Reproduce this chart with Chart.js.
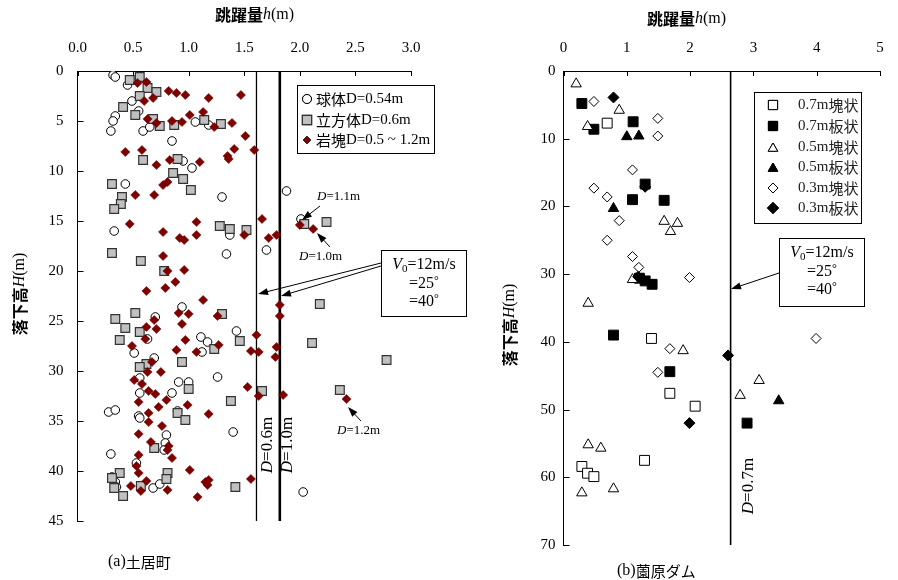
<!DOCTYPE html>
<html><head><meta charset="utf-8">
<script src="https://cdn.jsdelivr.net/npm/chart.js@4.4.0/dist/chart.umd.min.js"></script>
<style>
html,body{margin:0;padding:0;background:#fff;width:898px;height:580px;overflow:hidden}
#wa{position:absolute;left:0;top:0;width:470px;height:580px}
#wb{position:absolute;left:470px;top:0;width:428px;height:580px}
</style></head><body>
<div id="wa"><canvas id="ca" width="470" height="580"></canvas></div>
<div id="wb"><canvas id="cb" width="428" height="580"></canvas></div>
<script>
// ---------- (a) 土居町 data : [跳躍量 h (m), 落下高 H (m)] ----------
const sphere054 = [[0.32,0.4],[0.34,0.6],[0.45,1.4],[0.49,3.0],[0.55,4.0],[0.34,4.5],[0.32,5.0],[0.30,6.0],[0.59,6.0],[0.65,5.6],[1.06,5.1],[1.18,5.4],[0.85,7.0],[0.95,9.0],[1.03,9.7],[0.43,11.3],[1.30,12.6],[0.33,16.0],[1.37,16.4],[1.34,18.3],[1.88,12.0],[2.01,14.8],[1.70,17.9],[0.94,23.6],[0.70,24.6],[1.43,26.0],[1.11,26.6],[1.17,27.1],[1.12,28.1],[0.63,26.8],[0.51,28.2],[0.69,28.7],[1.26,30.6],[0.56,30.7],[0.91,31.1],[1.00,31.1],[0.85,32.2],[0.56,32.2],[0.28,34.1],[0.34,33.9],[0.55,34.5],[0.56,34.7],[0.90,34.0],[1.40,36.1],[0.80,36.4],[0.79,37.2],[0.78,37.9],[0.30,38.3],[0.53,39.2],[0.31,40.6],[0.34,41.1],[0.35,41.6],[0.68,41.7],[0.74,41.3],[2.03,42.1]];
const cube06 = [[0.47,0.9],[0.56,0.6],[0.63,1.7],[0.71,2.1],[0.56,2.5],[0.41,3.6],[0.52,4.4],[0.68,4.8],[0.74,5.5],[0.87,5.4],[1.14,4.9],[1.29,5.3],[0.59,8.9],[0.90,8.8],[0.86,10.2],[0.95,10.8],[1.02,11.9],[0.31,11.3],[0.40,12.6],[0.39,13.3],[0.33,13.8],[1.28,15.5],[1.37,15.8],[1.52,15.9],[0.31,18.2],[0.57,19.0],[0.78,20.0],[2.04,15.3],[2.24,15.1],[0.34,24.8],[0.52,24.2],[0.43,25.7],[0.38,26.9],[0.56,26.1],[1.30,24.3],[1.46,27.0],[1.23,27.8],[0.62,29.3],[0.56,29.6],[0.94,29.1],[1.00,31.8],[1.38,33.0],[0.90,34.2],[0.97,34.9],[0.69,37.7],[0.38,40.2],[0.31,40.7],[0.33,41.7],[0.41,42.5],[0.57,41.5],[0.81,40.2],[0.80,40.8],[1.42,41.6],[2.18,23.3],[2.11,27.2],[2.78,28.9],[1.66,32.0],[2.36,31.9]];
const rockMix = [[0.54,1.2],[0.62,1.1],[0.82,2.0],[0.89,2.2],[0.97,2.4],[1.18,2.7],[1.47,2.4],[0.60,3.0],[0.68,2.7],[0.63,4.8],[0.71,5.2],[0.85,5.0],[0.94,5.1],[1.01,4.4],[1.13,4.1],[1.23,5.6],[1.39,5.2],[1.51,6.5],[0.43,8.1],[0.58,7.9],[1.41,7.8],[1.35,8.5],[1.36,8.8],[1.59,7.9],[0.83,8.9],[0.71,9.4],[1.10,9.1],[0.77,11.4],[0.81,11.1],[0.52,12.4],[0.69,12.4],[0.47,15.3],[1.07,15.1],[0.77,16.1],[0.92,16.7],[0.96,16.9],[1.07,16.4],[1.50,16.4],[0.77,18.5],[0.81,20.0],[0.96,19.9],[0.88,21.1],[0.62,22.0],[0.79,21.7],[1.13,22.9],[1.66,14.8],[1.72,16.7],[1.79,16.4],[2.00,15.4],[2.12,15.8],[0.91,24.2],[1.00,24.3],[1.26,24.5],[0.69,24.9],[0.71,25.8],[0.62,25.6],[0.94,25.3],[0.61,26.8],[0.97,26.9],[0.49,27.5],[1.27,27.4],[0.89,27.9],[1.07,28.1],[1.56,28.0],[1.63,28.1],[1.61,26.4],[0.67,29.1],[0.63,30.1],[0.75,30.1],[0.51,30.9],[0.58,31.3],[0.64,32.0],[0.70,32.3],[0.55,33.1],[0.80,32.9],[0.73,33.6],[0.99,33.4],[1.53,31.6],[1.63,32.5],[1.18,34.3],[0.64,34.2],[0.64,35.1],[0.76,35.5],[0.55,36.3],[0.66,37.1],[0.82,37.5],[0.81,37.9],[0.85,38.7],[0.55,38.4],[0.53,39.5],[0.55,40.2],[1.01,39.9],[0.62,41.0],[0.48,41.5],[0.57,42.0],[0.81,41.9],[1.08,42.6],[1.15,41.1],[1.18,40.9],[1.17,41.4],[1.56,40.8],[1.82,23.4],[1.82,24.5],[1.79,27.6],[1.78,28.6],[1.85,32.4],[2.42,32.8]];
const limitD06 = [1.61];
const limitD10 = [1.82];
const leftXLabels = ['0.0','0.5','1.0','1.5','2.0','2.5','3.0'];
const leftYLabels = ['0','5','10','15','20','25','30','35','40','45'];

// ---------- (b) 薗原ダム data ----------
const block07 = [[0.69,7.7],[1.39,39.5],[1.68,47.6],[2.08,49.5],[1.28,57.5],[0.29,58.4],[0.38,59.4],[0.48,59.9]];
const plate07 = [[0.29,4.8],[0.48,8.6],[1.10,7.5],[1.29,16.7],[1.09,19.0],[1.59,19.1],[1.20,30.6],[1.29,31.0],[1.40,31.5],[0.79,39.0],[1.68,44.4],[2.90,52.0]];
const block05 = [[0.20,1.9],[0.88,5.8],[0.38,8.2],[1.59,22.2],[1.80,22.5],[1.69,23.7],[1.09,30.8],[0.39,34.3],[1.89,41.3],[0.39,55.2],[0.59,55.7],[0.29,62.3],[0.79,61.7],[3.09,45.7],[2.79,47.9]];
const plate05 = [[1.00,9.7],[1.19,9.6],[0.79,20.3],[3.40,48.7]];
const block03 = [[0.48,4.5],[1.49,7.0],[1.49,9.6],[1.09,14.6],[0.48,17.3],[0.69,18.6],[0.88,22.1],[0.69,25.0],[1.09,27.4],[1.19,29.0],[1.99,30.5],[1.68,41.0],[1.49,44.5],[3.99,39.5]];
const plate03 = [[0.79,3.9],[1.29,17.1],[1.18,30.4],[1.99,52.0],[2.60,42.0]];
const limitD07 = [2.64];
const rightXLabels = ['0','1','2','3','4','5'];
const rightYLabels = ['0','10','20','30','40','50','60','70'];

const SERIF = '"Liberation Serif","Times New Roman",serif';
const CJK = '"Noto Sans CJK JP","Noto Sans CJK SC",sans-serif';
const toXY = a => a.map(p => ({x: p[0], y: p[1]}));
const vline = (v, yMax) => [{x: v[0], y: 0}, {x: v[0], y: yMax}];

function runs(ctx, x, y, parts, align) {
  let w = 0;
  parts.forEach(p => { ctx.font = p[1]; w += ctx.measureText(p[0]).width; });
  let cx = align === 'center' ? x - w / 2 : (align === 'right' ? x - w : x);
  ctx.textBaseline = 'middle'; ctx.textAlign = 'left';
  parts.forEach(p => { ctx.font = p[1]; ctx.fillText(p[0], cx, y + (p[2] || 0)); cx += ctx.measureText(p[0]).width; });
}
function vruns(ctx, cx, cy, parts) {
  ctx.save(); ctx.translate(cx, cy); ctx.rotate(-Math.PI / 2); runs(ctx, 0, 0, parts, 'center'); ctx.restore();
}
function arrow(ctx, x1, y1, x2, y2) {
  const a = Math.atan2(y2 - y1, x2 - x1), L = 10, W = 3.5;
  ctx.beginPath(); ctx.moveTo(x1, y1); ctx.lineTo(x2 - Math.cos(a) * L * 0.8, y2 - Math.sin(a) * L * 0.8); ctx.stroke();
  ctx.beginPath(); ctx.moveTo(x2, y2);
  ctx.lineTo(x2 - L * Math.cos(a) + W * Math.sin(a), y2 - L * Math.sin(a) - W * Math.cos(a));
  ctx.lineTo(x2 - L * Math.cos(a) - W * Math.sin(a), y2 - L * Math.sin(a) + W * Math.cos(a));
  ctx.closePath(); ctx.fill();
}
function inwardTicks(chart) {
  const {x, y} = chart.scales, ctx = chart.ctx, ca = chart.chartArea;
  ctx.save(); ctx.strokeStyle = '#000'; ctx.lineWidth = 1;
  x.ticks.forEach(t => { const px = Math.round(x.getPixelForValue(t.value)) + 0.5; ctx.beginPath(); ctx.moveTo(px, ca.top); ctx.lineTo(px, ca.top + 5); ctx.stroke(); });
  y.ticks.forEach(t => { const py = Math.round(y.getPixelForValue(t.value)) + 0.5; ctx.beginPath(); ctx.moveTo(ca.left, py); ctx.lineTo(ca.left + 6, py); ctx.stroke(); });
  ctx.restore();
}
function marker(ctx, style, x, y, r, fill, stroke, lw) {
  ctx.save(); ctx.fillStyle = fill; ctx.strokeStyle = stroke; ctx.lineWidth = lw;
  Chart.helpers.drawPoint(ctx, {pointStyle: style, radius: r, rotation: 0, borderWidth: lw}, x, y);
  ctx.fill(); if (lw > 0) ctx.stroke(); ctx.restore();
}
function box(ctx, x, y, w, h) { ctx.save(); ctx.strokeStyle = '#000'; ctx.lineWidth = 1; ctx.strokeRect(x + 0.5, y + 0.5, w, h); ctx.restore(); }

function axisCfg(min, max, step, labels, pos, pad, extra) {
  return Object.assign({
    type: 'linear', position: pos, min: min, max: max,
    ticks: {stepSize: step, padding: pad, color: '#000', font: {family: SERIF, size: 15},
      callback: v => { const k = Math.round((v - min) / step); return labels[k] !== undefined ? labels[k] : String(v); }},
    grid: {drawOnChartArea: false, drawTicks: false},
    border: {color: '#000', width: 1}
  }, extra);
}

const leftAnno = {
  id: 'leftAnno',
  afterDraw(chart) {
    const ctx = chart.ctx;
    inwardTicks(chart);
    ctx.save(); ctx.fillStyle = '#000'; ctx.strokeStyle = '#000';
    runs(ctx, 215, 15, [['跳躍量', 'bold 16px ' + CJK], ['h', 'italic 16px ' + SERIF], ['(m)', '16px ' + SERIF]], 'left');
    vruns(ctx, 20, 294, [['落下高', 'bold 16px ' + CJK], ['H', 'italic 16px ' + SERIF], ['(m)', '16px ' + SERIF]]);
    runs(ctx, 108, 562, [['(a)', '16px ' + SERIF], ['土居町', '15px ' + CJK]], 'left');
    // legend
    box(ctx, 297, 85, 137, 68);
    marker(ctx, 'circle', 307, 99, 4.5, '#fff', '#000', 1);
    marker(ctx, 'rect', 307, 120, 6.5, '#c0c0c0', '#333', 1.2);
    marker(ctx, 'rectRot', 307, 140, 4, '#800000', '#333', 1);
    ctx.fillStyle = '#000';
    runs(ctx, 316, 99, [['球体', '15px ' + CJK], ['D=0.54m', '15px ' + SERIF]], 'left');
    runs(ctx, 316, 120, [['立方体', '15px ' + CJK], ['D=0.6m', '15px ' + SERIF]], 'left');
    runs(ctx, 316, 140, [['岩塊', '15px ' + CJK], ['D=0.5 ~ 1.2m', '15px ' + SERIF]], 'left');
    // V0 box
    box(ctx, 381, 250, 85, 66);
    runs(ctx, 424, 265, [['V', 'italic 16px ' + SERIF], ['0', '11px ' + SERIF, 4], ['=12m/s', '16px ' + SERIF]], 'center');
    runs(ctx, 424, 284, [['=25', '16px ' + SERIF], ['°', '12px ' + SERIF, -3]], 'center');
    runs(ctx, 424, 302, [['=40', '16px ' + SERIF], ['°', '12px ' + SERIF, -3]], 'center');
    ctx.lineWidth = 1;
    arrow(ctx, 381, 263, 258, 294);
    arrow(ctx, 381, 266, 281, 296);
    // D labels
    runs(ctx, 317, 197, [['D', 'italic 13px ' + SERIF], ['=1.1m', '13px ' + SERIF]], 'left');
    arrow(ctx, 320, 206, 302, 220);
    runs(ctx, 299, 257, [['D', 'italic 13px ' + SERIF], ['=1.0m', '13px ' + SERIF]], 'left');
    arrow(ctx, 330, 247, 317, 233);
    runs(ctx, 337, 431, [['D', 'italic 13px ' + SERIF], ['=1.2m', '13px ' + SERIF]], 'left');
    arrow(ctx, 361, 421, 348, 407);
    vruns(ctx, 268, 445, [['D', 'italic 17px ' + SERIF], ['=0.6m', '17px ' + SERIF]]);
    vruns(ctx, 288, 445, [['D', 'italic 17px ' + SERIF], ['=1.0m', '17px ' + SERIF]]);
    ctx.restore();
  }
};

const OX = 470;
const rightAnno = {
  id: 'rightAnno',
  afterDraw(chart) {
    const ctx = chart.ctx;
    inwardTicks(chart);
    ctx.save(); ctx.fillStyle = '#000'; ctx.strokeStyle = '#000';
    runs(ctx, 647 - OX, 19, [['跳躍量', 'bold 16px ' + CJK], ['h', 'italic 16px ' + SERIF], ['(m)', '16px ' + SERIF]], 'left');
    vruns(ctx, 510 - OX, 325, [['落下高', 'bold 16px ' + CJK], ['H', 'italic 16px ' + SERIF], ['(m)', '16px ' + SERIF]]);
    runs(ctx, 617 - OX, 571, [['(b)', '16px ' + SERIF], ['薗原ダム', '15px ' + CJK]], 'left');
    // legend
    box(ctx, 754 - OX, 92, 107, 131);
    const ly = [105, 126, 147, 167, 188, 208];
    const sx = 773 - OX;
    marker(ctx, 'rect', sx, ly[0], 6.5, '#fff', '#000', 1);
    marker(ctx, 'rect', sx, ly[1], 6.5, '#000', '#000', 1);
    marker(ctx, 'triangle', sx, ly[2] + 1.5, 5.5, '#fff', '#000', 1);
    marker(ctx, 'triangle', sx, ly[3] + 1.5, 5.5, '#000', '#000', 1);
    marker(ctx, 'rectRot', sx, ly[4], 5, '#fff', '#000', 1);
    marker(ctx, 'rectRot', sx, ly[5], 5.5, '#000', '#000', 1);
    ctx.fillStyle = '#222';
    const names = [['0.7m', '塊状'], ['0.7m', '板状'], ['0.5m', '塊状'], ['0.5m', '板状'], ['0.3m', '塊状'], ['0.3m', '板状']];
    names.forEach((n, i) => runs(ctx, 798 - OX, ly[i], [[n[0], '15px ' + SERIF], [n[1], '15px ' + CJK]], 'left'));
    // V0 box
    ctx.fillStyle = '#000';
    box(ctx, 779 - OX, 238, 85, 68);
    runs(ctx, 822 - OX, 253, [['V', 'italic 16px ' + SERIF], ['0', '11px ' + SERIF, 4], ['=12m/s', '16px ' + SERIF]], 'center');
    runs(ctx, 822 - OX, 272, [['=25', '16px ' + SERIF], ['°', '12px ' + SERIF, -3]], 'center');
    runs(ctx, 822 - OX, 290, [['=40', '16px ' + SERIF], ['°', '12px ' + SERIF, -3]], 'center');
    ctx.lineWidth = 1;
    arrow(ctx, 779 - OX, 273, 731 - OX, 289);
    vruns(ctx, 749 - OX, 486, [['D', 'italic 17px ' + SERIF], ['=0.7m', '17px ' + SERIF]]);
    ctx.restore();
  }
};

const common = {responsive: false, animation: false, events: [],
  plugins: {legend: {display: false}, tooltip: {enabled: false}}};

new Chart(document.getElementById('ca'), {
  type: 'scatter',
  data: {datasets: [
    {label: '岩塊D=0.5 ~ 1.2m', data: toXY(rockMix), pointStyle: 'rectRot', pointRadius: 4.6, pointBackgroundColor: '#800000', pointBorderColor: '#6a0000', pointBorderWidth: 0.5},
    {label: '立方体D=0.6m', data: toXY(cube06), pointStyle: 'rect', pointRadius: 6.2, pointBackgroundColor: '#c0c0c0', pointBorderColor: '#333', pointBorderWidth: 1.2},
    {label: '球体D=0.54m', data: toXY(sphere054), pointStyle: 'circle', pointRadius: 4.3, pointBackgroundColor: '#fff', pointBorderColor: '#000', pointBorderWidth: 1},
    {label: 'D=0.6m', data: vline(limitD06, 45), showLine: true, pointRadius: 0, borderColor: '#000', borderWidth: 1.3},
    {label: 'D=1.0m', data: vline(limitD10, 45), showLine: true, pointRadius: 0, borderColor: '#000', borderWidth: 2.6}
  ]},
  options: Object.assign({}, common, {
    layout: {padding: {left: 0, top: 0, right: 59, bottom: 59}},
    scales: {
      x: axisCfg(0, 3, 0.5, leftXLabels, 'top', 14, {afterFit: s => { s.height = 71; }}),
      y: axisCfg(0, 45, 5, leftYLabels, 'left', 14, {reverse: true, afterFit: s => { s.width = 77.5; }})
    }
  }),
  plugins: [leftAnno]
});

new Chart(document.getElementById('cb'), {
  type: 'scatter',
  data: {datasets: [
    {label: '0.3m板状', data: toXY(plate03), pointStyle: 'rectRot', pointRadius: 5.5, pointBackgroundColor: '#000', pointBorderColor: '#000', pointBorderWidth: 1},
    {label: '0.3m塊状', data: toXY(block03), pointStyle: 'rectRot', pointRadius: 5, pointBackgroundColor: '#fff', pointBorderColor: '#000', pointBorderWidth: 1},
    {label: '0.5m板状', data: toXY(plate05), pointStyle: 'triangle', pointRadius: 6, pointBackgroundColor: '#000', pointBorderColor: '#000', pointBorderWidth: 1},
    {label: '0.5m塊状', data: toXY(block05), pointStyle: 'triangle', pointRadius: 6, pointBackgroundColor: '#fff', pointBorderColor: '#000', pointBorderWidth: 1},
    {label: '0.7m板状', data: toXY(plate07), pointStyle: 'rect', pointRadius: 7, pointBackgroundColor: '#000', pointBorderColor: '#000', pointBorderWidth: 1},
    {label: '0.7m塊状', data: toXY(block07), pointStyle: 'rect', pointRadius: 7, pointBackgroundColor: '#fff', pointBorderColor: '#000', pointBorderWidth: 1},
    {label: 'D=0.7m', data: vline(limitD07, 70), showLine: true, pointRadius: 0, borderColor: '#000', borderWidth: 1.6}
  ]},
  options: Object.assign({}, common, {
    layout: {padding: {left: 0, top: 0, right: 18, bottom: 35}},
    scales: {
      x: axisCfg(0, 5, 1, rightXLabels, 'top', 14, {afterFit: s => { s.height = 71; }}),
      y: axisCfg(0, 70, 10, rightYLabels, 'left', 8, {reverse: true, afterFit: s => { s.width = 93.5; }})
    }
  }),
  plugins: [rightAnno]
});
</script>
</body></html>
